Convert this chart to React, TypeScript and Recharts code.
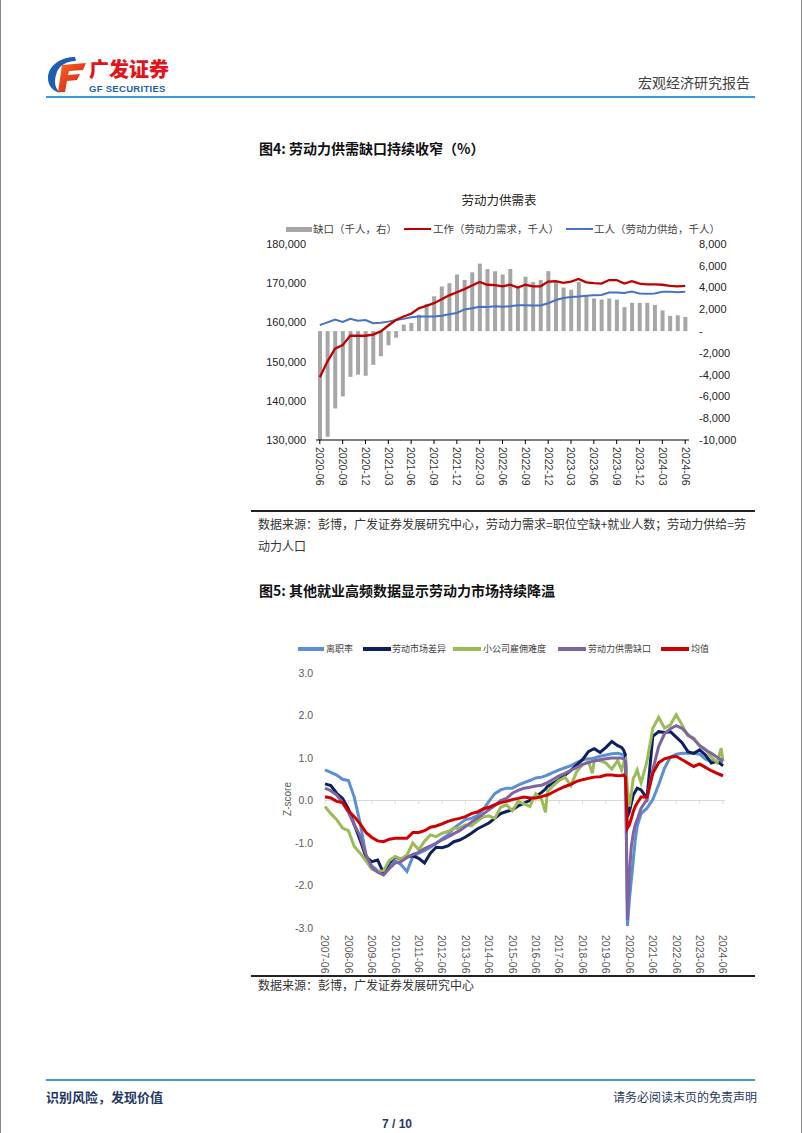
import React from 'react';
import { ComposedChart, LineChart, Bar, Line, XAxis, YAxis, ReferenceLine } from 'recharts';

// 图4 劳动力供需表 (千人)
const months = [
  '2020-06', '2020-07', '2020-08', '2020-09', '2020-10', '2020-11', '2020-12',
  '2021-01', '2021-02', '2021-03', '2021-04', '2021-05', '2021-06', '2021-07', '2021-08', '2021-09', '2021-10', '2021-11', '2021-12',
  '2022-01', '2022-02', '2022-03', '2022-04', '2022-05', '2022-06', '2022-07', '2022-08', '2022-09', '2022-10', '2022-11', '2022-12',
  '2023-01', '2023-02', '2023-03', '2023-04', '2023-05', '2023-06', '2023-07', '2023-08', '2023-09', '2023-10', '2023-11', '2023-12',
  '2024-01', '2024-02', '2024-03', '2024-04', '2024-05', '2024-06',
];
const gapK = [
  -10000, -9700, -7100, -6000, -4200, -4000, -4100, -3100, -2300, -1300, -600, 600, 750, 1500, 2500, 3200, 4100,
  4400, 5200, 4700, 5400, 6200, 5700, 5500, 5200, 5700, 4000, 5000, 4500, 4700, 5500, 4500, 4000, 3800, 4500,
  3300, 3000, 2900, 3000, 2900, 2200, 2600, 2600, 2600, 2400, 1900, 1400, 1450, 1300,
];
const demandK = [
  146000, 150000, 153300, 154200, 156600, 156600, 156600, 156900, 157700, 159200, 160600, 161500, 162200, 163600,
  164200, 164900, 165900, 166900, 167700, 168500, 169400, 170300, 169600, 169500, 169200, 169600, 168900, 169600,
  169200, 169200, 170400, 170500, 170100, 170400, 171100, 170200, 170000, 169900, 170800, 170800, 169900, 170500,
  169900, 169700, 169700, 169600, 169300, 169200, 169300,
];
const supplyK = [
  159300, 160000, 160700, 160100, 160900, 160400, 160600, 159800, 159900, 160200, 160600, 160900, 161300, 161500,
  161500, 161500, 161700, 162100, 162400, 163300, 163600, 164000, 163900, 164100, 164000, 164100, 164400, 164400,
  164300, 164300, 164900, 165700, 166200, 166500, 166600, 166800, 166900, 167000, 167600, 167600, 167500, 167900,
  167400, 167300, 167400, 167800, 167800, 167700, 167800,
];
const leftTicks = [130000, 140000, 150000, 160000, 170000, 180000];
const rightTicks = [-10000, -8000, -6000, -4000, -2000, 0, 2000, 4000, 6000, 8000];

// 图5 就业高频数据 z-score, 横轴为自2007-06起的月数
const zMonth = [
  0, 3, 6, 9, 12, 15, 18, 21, 24, 27, 30, 33, 36, 39, 42, 45, 48, 51, 54, 57, 60, 63, 66, 69, 72, 75, 78, 81, 84, 87,
  90, 93, 96, 99, 102, 105, 108, 111, 113, 114, 117, 120, 123, 126, 129, 132, 135, 137, 138, 141, 144, 147, 150,
  152, 153, 154, 155, 156, 157, 158, 159, 160, 162, 165, 168, 171, 174, 177, 180, 183, 186, 189, 192, 195, 198, 201, 203, 204,
];
const quitRate = [
  0.72, 0.66, 0.6, 0.5, 0.47, 0.08, -0.53, -1.28, -1.54, -1.65, -1.74, -1.54, -1.42, -1.51, -1.67, -1.32, -1.24, -1.18,
  -1.1, -1.01, -0.9, -0.81, -0.65, -0.55, -0.45, -0.42, -0.36, -0.22, -0.02, 0.16, 0.25, 0.29, 0.29, 0.36, 0.42, 0.47,
  0.53, 0.55, 0.58, 0.6, 0.66, 0.72, 0.77, 0.82, 0.89, 0.96, 0.98, 0.99, 1.0, 1.04, 1.07, 1.1, 1.11, 1.09, 1.07, 0.96,
  -2.95, -2.34, -1.87, -1.4, -0.93, -0.61, -0.31, -0.18, 0.02, 0.37, 0.76, 1.02, 1.09, 1.11, 1.11, 1.11, 1.09, 0.97,
  0.93, 0.92, 0.92, 0.92,
];
const marketDiff = [
  0.39, 0.35, 0.17, 0.05, -0.2, -0.57, -0.93, -1.33, -1.44, -1.4, -1.71, -1.46, -1.33, -1.38, -1.33, -1.3, -1.36, -1.47,
  -1.24, -1.1, -1.11, -1.07, -0.97, -0.93, -0.86, -0.77, -0.67, -0.6, -0.53, -0.42, -0.31, -0.26, -0.22, -0.13, -0.06,
  0.0, 0.09, 0.19, 0.27, 0.33, 0.41, 0.49, 0.6, 0.71, 0.84, 0.96, 1.15, 1.2, 1.22, 1.13, 1.25, 1.39, 1.29, 1.25, 1.19,
  1.07, -0.38, -0.26, -0.06, 0.13, 0.21, 0.29, 0.25, 0.05, 1.51, 1.62, 1.6, 1.62, 1.49, 1.36, 1.15, 1.11, 1.19, 1.07,
  0.88, 0.92, 0.85, 0.82,
];
const smallBizHiring = [
  -0.14, -0.31, -0.45, -0.65, -0.71, -1.08, -1.24, -1.42, -1.62, -1.67, -1.65, -1.41, -1.32, -1.38, -1.28, -1.0, -1.16,
  -0.96, -0.81, -0.85, -0.77, -0.73, -0.65, -0.65, -0.57, -0.6, -0.49, -0.39, -0.36, -0.42, -0.16, -0.1, -0.24, -0.02,
  -0.08, -0.14, 0.16, 0.03, -0.28, 0.21, 0.35, 0.47, 0.55, 0.35, 0.68, 0.84, 0.92, 0.64, 0.94, 0.94, 0.88, 0.74, 0.94,
  0.72, 0.88, 0.96, 0.25, -0.14, 0.17, 0.53, 0.6, 0.72, 0.41, 0.92, 1.7, 1.96, 1.7, 1.78, 2.02, 1.78, 1.52, 1.47, 1.29,
  1.21, 1.02, 0.89, 1.23, 0.92,
];
const laborGap = [
  0.29, 0.23, 0.13, -0.05, -0.28, -0.57, -0.83, -1.28, -1.57, -1.69, -1.75, -1.6, -1.47, -1.44, -1.34, -1.27, -1.22,
  -1.13, -1.07, -1.0, -0.93, -0.86, -0.78, -0.71, -0.61, -0.51, -0.42, -0.32, -0.22, -0.12, 0.0, 0.05, 0.17, 0.24, 0.29,
  0.31, 0.34, 0.36, 0.4, 0.42, 0.5, 0.58, 0.64, 0.71, 0.78, 0.85, 0.89, 0.92, 0.93, 0.96, 0.98, 1.0, 1.0, 1.0, 0.98,
  0.92, -2.81, -1.71, -1.08, -0.77, -0.57, -0.45, -0.18, 0.02, 0.72, 1.27, 1.57, 1.69, 1.76, 1.7, 1.55, 1.44, 1.29, 1.19,
  1.11, 1.02, 0.96, 0.94,
];
const average = [
  0.09, 0.06, -0.02, -0.05, -0.24, -0.38, -0.55, -0.75, -0.87, -0.95, -0.97, -0.91, -0.89, -0.89, -0.89, -0.75, -0.75,
  -0.71, -0.63, -0.6, -0.55, -0.49, -0.45, -0.42, -0.38, -0.31, -0.27, -0.2, -0.16, -0.1, -0.05, -0.02, 0.02, 0.05, 0.08,
  0.06, 0.06, 0.09, 0.12, 0.13, 0.2, 0.27, 0.33, 0.38, 0.45, 0.49, 0.52, 0.54, 0.55, 0.56, 0.6, 0.6, 0.58, 0.59, 0.6,
  0.55, -0.65, -0.57, -0.42, -0.26, -0.14, -0.06, 0.08, 0.08, 0.64, 0.89, 0.98, 1.02, 1.04, 0.96, 0.88, 0.8, 0.86, 0.78,
  0.7, 0.64, 0.6, 0.58,
];
const zTicks = [-3, -2, -1, 0, 1, 2, 3];
const yearTicks = [0, 12, 24, 36, 48, 60, 72, 84, 96, 108, 120, 132, 144, 156, 168, 180, 192, 204];

const cjk = '"Noto Sans CJK SC", sans-serif';
const arial = '"Liberation Sans", Arial, sans-serif';

const chart1Data = months.map((m, i) => ({ month: m, gap: gapK[i], demand: demandK[i], supply: supplyK[i] }));
const chart2Data = zMonth.map((m, i) => ({
  m,
  quit: quitRate[i],
  diff: marketDiff[i],
  hire: smallBizHiring[i],
  gap: laborGap[i],
  avg: average[i],
}));

const fmtThousands = (v: number) => (v === 0 ? '-' : v.toLocaleString('en-US'));
const monthLabel = (m: number) => `${2007 + Math.floor((m + 5) / 12)}-${String(((m + 5) % 12) + 1).padStart(2, '0')}`;

function VTick(props: any) {
  const { x, y, payload, color, fmt } = props;
  const label = fmt ? fmt(payload.value) : payload.value;
  return (
    <text x={x} y={y} transform={`rotate(90 ${x} ${y})`} dy="0.35em" textAnchor="start" fontSize={10.5} fill={color} fontFamily={arial}>
      {label}
    </text>
  );
}

function Logo() {
  return (
    <svg width={44} height={40} viewBox="0 0 44 40" style={{ position: 'absolute', left: 44, top: 54 }}>
      <defs>
        <linearGradient id="lgRed" x1="0" y1="0" x2="1" y2="1">
          <stop offset="0%" stopColor="#f26a21" />
          <stop offset="100%" stopColor="#d7141a" />
        </linearGradient>
      </defs>
      <path d="M30 3 C14 3 3 13 3 24 C3 32 8 37 15 39 C10 34 9 28 11 21 C13 12 21 7 31 7 Z" fill="#1c5fae" />
      <path d="M17 11 L41 9 L38 16 L24 17 L23 21 L35 20 L32 26 L22 27 L20 38 L13 38 Z" fill="url(#lgRed)" />
    </svg>
  );
}

function Chart1() {
  return (
    <div style={{ position: 'absolute', left: 250, top: 235 }}>
      <ComposedChart width={500} height={255} data={chart1Data} margin={{ top: 9, right: 7, bottom: 0, left: 5 }}>
        <XAxis
          dataKey="month"
          interval={2}
          height={50}
          tickSize={4}
          tickMargin={3}
          axisLine={{ stroke: '#000' }}
          tickLine={{ stroke: '#000' }}
          tick={<VTick color="#333" />}
        />
        <YAxis
          yAxisId="l"
          domain={[130000, 180000]}
          ticks={leftTicks}
          width={60}
          axisLine={false}
          tickLine={false}
          tickSize={0}
          tickMargin={10}
          tickFormatter={fmtThousands}
          tick={{ fontSize: 11, fill: '#222', fontFamily: arial }}
        />
        <YAxis
          yAxisId="r"
          orientation="right"
          domain={[-10000, 8000]}
          ticks={rightTicks}
          width={55}
          axisLine={false}
          tickLine={false}
          tickSize={0}
          tickMargin={10}
          tickFormatter={fmtThousands}
          tick={{ fontSize: 11, fill: '#222', fontFamily: arial, textAnchor: 'start' }}
        />
        <Bar yAxisId="r" dataKey="gap" fill="#a6a6a6" barSize={4} isAnimationActive={false} />
        <Line yAxisId="l" type="linear" dataKey="supply" stroke="#4472c4" strokeWidth={2} dot={false} isAnimationActive={false} />
        <Line yAxisId="l" type="linear" dataKey="demand" stroke="#c00000" strokeWidth={2.3} dot={false} isAnimationActive={false} />
      </ComposedChart>
    </div>
  );
}

function Chart2() {
  return (
    <div style={{ position: 'absolute', left: 250, top: 660 }}>
      <LineChart width={500} height={313} data={chart2Data} margin={{ top: 13, right: 26, bottom: 0, left: 14 }}>
        <XAxis
          dataKey="m"
          type="number"
          domain={[0, 205]}
          ticks={yearTicks}
          interval={0}
          height={45}
          axisLine={false}
          tickLine={false}
          tickSize={4}
          tickMargin={3}
          tick={<VTick color="#595959" fmt={monthLabel} />}
        />
        <YAxis
          domain={[-3, 3]}
          ticks={zTicks}
          width={60}
          axisLine={false}
          tickLine={false}
          tickSize={0}
          tickMargin={12}
          tickFormatter={(v: number) => v.toFixed(1)}
          tick={{ fontSize: 10.5, fill: '#595959', fontFamily: arial }}
        />
        <ReferenceLine y={0} stroke="#d9d9d9" strokeWidth={1} />
        {yearTicks.map((t) => (
          <ReferenceLine
            key={t}
            segment={[
              { x: t, y: 0 },
              { x: t, y: -0.08 },
            ]}
            stroke="#d9d9d9"
            strokeWidth={1}
          />
        ))}
        <Line type="linear" dataKey="quit" stroke="#5b8fd4" strokeWidth={3} dot={false} isAnimationActive={false} />
        <Line type="linear" dataKey="diff" stroke="#0e1f5e" strokeWidth={3} dot={false} isAnimationActive={false} />
        <Line type="linear" dataKey="hire" stroke="#9bbb59" strokeWidth={3} dot={false} isAnimationActive={false} />
        <Line type="linear" dataKey="gap" stroke="#8064a2" strokeWidth={3} dot={false} isAnimationActive={false} />
        <Line type="linear" dataKey="avg" stroke="#d00000" strokeWidth={3} dot={false} isAnimationActive={false} />
      </LineChart>
    </div>
  );
}

const abs = (left: number, top: number, extra: React.CSSProperties = {}): React.CSSProperties => ({
  position: 'absolute',
  left,
  top,
  whiteSpace: 'nowrap',
  ...extra,
});

function LegendItem({ x, y, w, h, color, text, textX, size }: any) {
  return (
    <>
      <div style={abs(x, y - h / 2, { width: w, height: h, background: color })} />
      <div style={abs(textX, y - 8, { fontSize: size, lineHeight: '16px', color: '#404040', fontFamily: cjk })}>{text}</div>
    </>
  );
}

export default function App() {
  return (
    <div
      style={{
        position: 'absolute',
        left: 0,
        top: 0,
        width: 800,
        height: 1133,
        background: '#fff',
        borderLeft: '1px solid #888',
        borderRight: '1px solid #888',
        fontFamily: cjk,
        overflow: 'hidden',
      }}
    >
      {/* 页眉 */}
      <Logo />
      <div style={abs(88, 57, { fontSize: 20, lineHeight: '24px', fontWeight: 900, color: '#e3141b' })}>广发证券</div>
      <div style={abs(88, 83, { fontSize: 9.5, lineHeight: '11px', fontWeight: 700, color: '#1c5fae', fontFamily: arial, letterSpacing: 0.3 })}>
        GF SECURITIES
      </div>
      <div style={abs(637, 73, { fontSize: 14, lineHeight: '18px', color: '#404040' })}>宏观经济研究报告</div>
      <div style={abs(45, 96, { width: 709, height: 2, background: '#3a9ad9' })} />

      {/* 图4 */}
      <div style={abs(258, 139, { fontSize: 14, lineHeight: '18px', fontWeight: 700, color: '#111' })}>图4: 劳动力供需缺口持续收窄（%）</div>
      <div style={abs(448, 192, { width: 100, textAlign: 'center', fontSize: 12.5, lineHeight: '16px', color: '#222' })}>劳动力供需表</div>
      <LegendItem x={285} y={229} w={26} h={5} color="#a6a6a6" text="缺口（千人，右）" textX={312} size={10.5} />
      <LegendItem x={403} y={229} w={27} h={2.5} color="#c00000" text="工作（劳动力需求，千人）" textX={432} size={10.5} />
      <LegendItem x={565} y={229} w={27} h={2.5} color="#4472c4" text="工人（劳动力供给，千人）" textX={593} size={10.5} />
      <Chart1 />
      <div style={abs(250, 510, { width: 504, height: 1.5, background: '#222' })} />
      <div style={abs(257, 513, { fontSize: 12, lineHeight: '22px', color: '#333' })}>
        数据来源：彭博，广发证券发展研究中心，劳动力需求=职位空缺+就业人数；劳动力供给=劳
        <br />
        动力人口
      </div>

      {/* 图5 */}
      <div style={abs(258, 581, { fontSize: 14, lineHeight: '18px', fontWeight: 700, color: '#111' })}>图5: 其他就业高频数据显示劳动力市场持续降温</div>
      <LegendItem x={297} y={649} w={26} h={3.5} color="#5b8fd4" text="离职率" textX={325} size={9} />
      <LegendItem x={362} y={649} w={28} h={3.5} color="#0e1f5e" text="劳动市场差异" textX={391} size={9} />
      <LegendItem x={452} y={649} w={28} h={3.5} color="#9bbb59" text="小公司雇佣难度" textX={482} size={9} />
      <LegendItem x={557} y={649} w={28} h={3.5} color="#8064a2" text="劳动力供需缺口" textX={587} size={9} />
      <LegendItem x={660} y={649} w={28} h={3.5} color="#d00000" text="均值" textX={690} size={9} />
      <div
        style={abs(267, 792, {
          width: 40,
          textAlign: 'center',
          fontSize: 10,
          lineHeight: '14px',
          color: '#595959',
          fontFamily: arial,
          transform: 'rotate(-90deg)',
        })}
      >
        Z-score
      </div>
      <Chart2 />
      <div style={abs(250, 975, { width: 504, height: 1.5, background: '#222' })} />
      <div style={abs(257, 977, { fontSize: 12, lineHeight: '16px', color: '#333' })}>数据来源：彭博，广发证券发展研究中心</div>

      {/* 页脚 */}
      <div style={abs(45, 1079, { width: 709, height: 2, background: '#3a9ad9' })} />
      <div style={abs(45, 1089, { fontSize: 13, lineHeight: '16px', fontWeight: 700, color: '#1f3864' })}>识别风险，发现价值</div>
      <div style={abs(612, 1089, { fontSize: 12, lineHeight: '16px', color: '#1f3864' })}>请务必阅读末页的免责声明</div>
      <div style={abs(361, 1116, { width: 70, textAlign: 'center', fontSize: 12, lineHeight: '16px', fontWeight: 700, color: '#1f3864', fontFamily: arial })}>
        7 / 10
      </div>
    </div>
  );
}
